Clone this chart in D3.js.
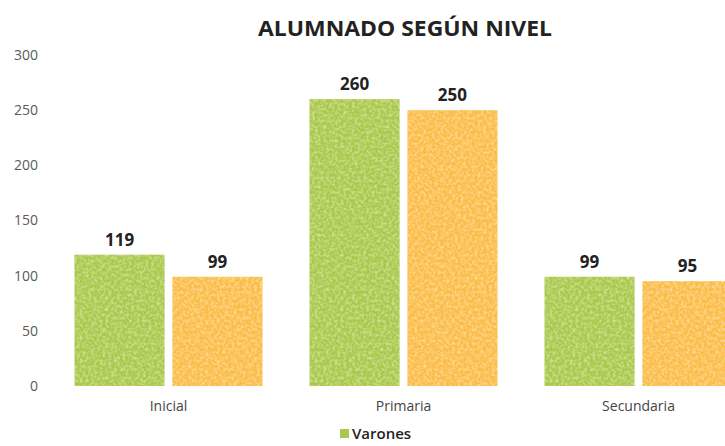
<!DOCTYPE html>
<html><head><meta charset="utf-8">
<script src="https://cdn.jsdelivr.net/npm/d3@7"></script>
<style>html,body{margin:0;padding:0;background:#fff;overflow:hidden}</style>
</head><body><svg id="c" width="725" height="446"></svg>
<script>
const categories = ["Inicial", "Primaria", "Secundaria"];
const seriesNames = ["Varones", "Mujeres"];
const varones = [119, 260, 99];
const mujeres = [99, 250, 95];
const yTicks = [0, 50, 100, 150, 200, 250, 300];
const title = "ALUMNADO SEGÚN NIVEL";
const colors = ["#a9c94c", "#fbbd47"];

const svg = d3.select("#c");
const values = [varones, mujeres];

const defs = svg.append("defs");
const f = defs.append("filter").attr("id","tex").attr("x",0).attr("y",0).attr("width",1).attr("height",1);
f.append("feTurbulence").attr("type","fractalNoise").attr("baseFrequency","0.35").attr("numOctaves",2).attr("seed",3).attr("result","n");
f.append("feColorMatrix").attr("in","n").attr("type","matrix")
 .attr("values","0 0 0 0 1  0 0 0 0 1  0 0 0 0 0.6  0 0 0 0.9 -0.35").attr("result","m");
f.append("feComposite").attr("in","m").attr("in2","SourceGraphic").attr("operator","in").attr("result","c");
f.append("feMerge").selectAll("feMergeNode").data(["SourceGraphic","c"]).join("feMergeNode").attr("in",d=>d);

const y = d3.scaleLinear().domain([0, 300]).range([386, 55]);
const x0 = d3.scaleBand().domain(categories).range([51, 756]).paddingInner(0.2).paddingOuter(0.1);
const x1 = d3.scaleBand().domain(seriesNames).range([0, x0.bandwidth()]).paddingInner(0.08);

// title
svg.append("text").attr("x", 405).attr("y", 36).attr("text-anchor","middle")
  .attr("font-family","Open Sans").attr("font-weight","bold").attr("font-size",21)
  .attr("fill","#222").attr("textLength",294).attr("lengthAdjust","spacingAndGlyphs").text(title);

// y axis
const yAxis = d3.axisLeft(y).tickValues(yTicks).tickSize(0).tickPadding(0);
const ga = svg.append("g").attr("transform","translate(38,0)").call(yAxis);
ga.select(".domain").remove();
ga.selectAll("text").attr("font-family","Open Sans").attr("font-size",14).attr("fill","#5a5a5a");

// bars
const groups = svg.append("g").selectAll("g").data(categories).join("g")
  .attr("transform", d => `translate(${x0(d)},0)`);
groups.selectAll("rect").data((c,i) => seriesNames.map((s,j)=>({s, v: values[j][i], j})))
  .join("rect")
  .attr("x", d => x1(d.s)).attr("width", x1.bandwidth())
  .attr("y", d => y(d.v)).attr("height", d => y(0) - y(d.v))
  .attr("fill", d => colors[d.j]).attr("filter","url(#tex)");
groups.selectAll("text.v").data((c,i) => seriesNames.map((s,j)=>({s, v: values[j][i], j})))
  .join("text").attr("class","v")
  .attr("x", d => x1(d.s) + x1.bandwidth()/2).attr("y", d => y(d.v) - 9)
  .attr("text-anchor","middle").attr("font-family","Open Sans").attr("font-weight","bold")
  .attr("font-size",17).attr("fill","#222").text(d => d.v);

// category axis labels
const xAxis = d3.axisBottom(x0).tickSize(0).tickPadding(0);
const gx = svg.append("g").attr("transform","translate(0,407)").call(xAxis);
gx.select(".domain").remove();
gx.selectAll("text").attr("font-family","Open Sans").attr("font-size",14).attr("fill","#444").attr("dy","0.3em");

// legend (only the visible entry of the reference)
const lg = svg.append("g").attr("transform","translate(340,434)");
const li = lg.selectAll("g").data(seriesNames.slice(0,1)).join("g");
li.append("rect").attr("x",0).attr("y",-5).attr("width",9).attr("height",9).attr("fill",(d,i)=>colors[i]);
li.append("text").attr("x",12).attr("y",5).attr("font-family","Open Sans").attr("font-weight","600")
  .attr("font-size",15).attr("fill","#222").text(d=>d);
</script></body></html>
